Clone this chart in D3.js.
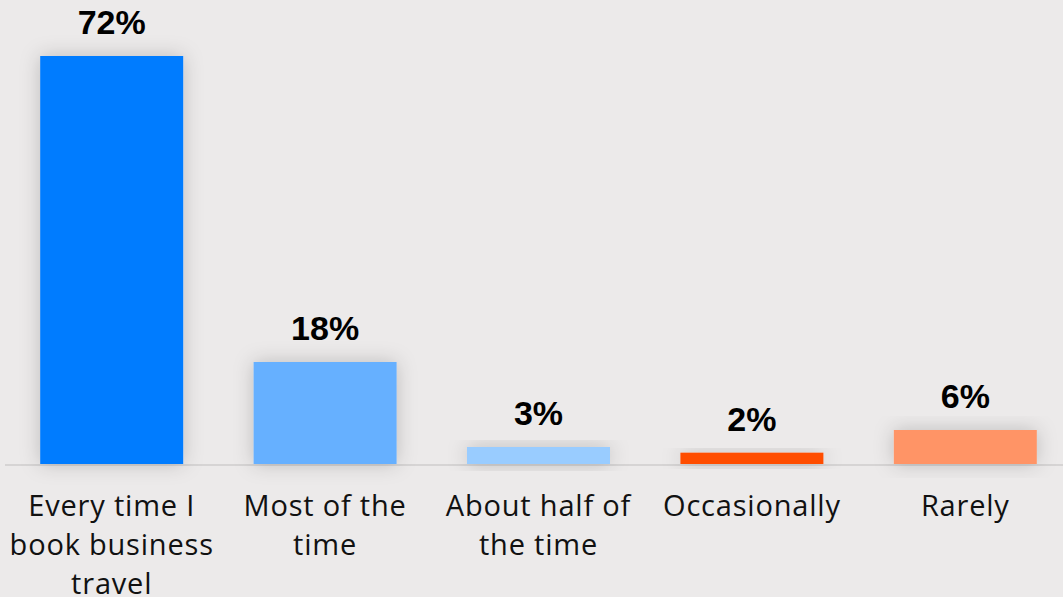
<!DOCTYPE html>
<html>
<head>
<meta charset="utf-8">
<script src="https://cdn.jsdelivr.net/npm/d3@7"></script>
<style>
  html, body { margin: 0; padding: 0; background: #ECEAEA; }
  svg { display: block; }
</style>
</head>
<body>
<svg id="chart" width="1063" height="597"></svg>
<script>
const categories = ["Every time I book business travel", "Most of the time", "About half of the time", "Occasionally", "Rarely"];
const values = [72, 18, 3, 2, 6];
const valueLabels = ["72%", "18%", "3%", "2%", "6%"];
const colors = ["#007BFF", "#66B0FF", "#99CCFF", "#FF4E00", "#FF9466"];

const W = 1063, H = 597;
const baseline = 464;
const svg = d3.select("#chart");

svg.append("rect").attr("width", W).attr("height", H).attr("fill", "#ECEAEA");

const defs = svg.append("defs");
const f = defs.append("filter").attr("id", "shadow")
  .attr("x", "-40%").attr("y", "-40%").attr("width", "180%").attr("height", "180%");
f.append("feDropShadow").attr("dx", 0).attr("dy", 0).attr("stdDeviation", 10)
  .attr("flood-color", "#000").attr("flood-opacity", 0.2);

const x = d3.scaleBand().domain(categories).range([5, 1072]).paddingInner(0.33).paddingOuter(0.165);
const y = d3.scaleLinear().domain([0, 72]).range([baseline, 56]);

// baseline
svg.append("line").attr("x1", 5).attr("x2", W).attr("y1", baseline + 1).attr("y2", baseline + 1)
  .attr("stroke", "#D6D4D4").attr("stroke-width", 2);

svg.selectAll("rect.bar").data(values).join("rect")
  .attr("class", "bar")
  .attr("x", (d, i) => x(categories[i]))
  .attr("width", x.bandwidth())
  .attr("y", d => y(d))
  .attr("height", d => baseline - y(d))
  .attr("fill", (d, i) => colors[i])
  .attr("filter", "url(#shadow)");

svg.selectAll("text.val").data(values).join("text")
  .attr("class", "val")
  .attr("x", (d, i) => x(categories[i]) + x.bandwidth() / 2)
  .attr("y", d => y(d) - 22)
  .attr("text-anchor", "middle")
  .attr("font-family", "'Liberation Sans', Arial, sans-serif")
  .attr("font-weight", "bold")
  .attr("font-size", 34)
  .attr("fill", "#000")
  .text((d, i) => valueLabels[i]);

const labelG = svg.append("g");
categories.forEach((c, i) => {
  const cx = x(c) + x.bandwidth() / 2;
  const t = labelG.append("text")
    .attr("x", cx)
    .attr("y", 516)
    .attr("text-anchor", "middle")
    .attr("font-family", "'Open Sans', sans-serif")
    .attr("font-size", 29)
    .attr("letter-spacing", 0.8)
    .attr("fill", "#111");
  const words = c.split(" ");
  let line = [];
  let ts = t.append("tspan").attr("x", cx).attr("dy", 0);
  words.forEach(w => {
    line.push(w);
    ts.text(line.join(" "));
    if (ts.node().getComputedTextLength() > 215 && line.length > 1) {
      line.pop();
      ts.text(line.join(" "));
      line = [w];
      ts = t.append("tspan").attr("x", cx).attr("dy", 39).text(w);
    }
  });
});
</script>
</body>
</html>
